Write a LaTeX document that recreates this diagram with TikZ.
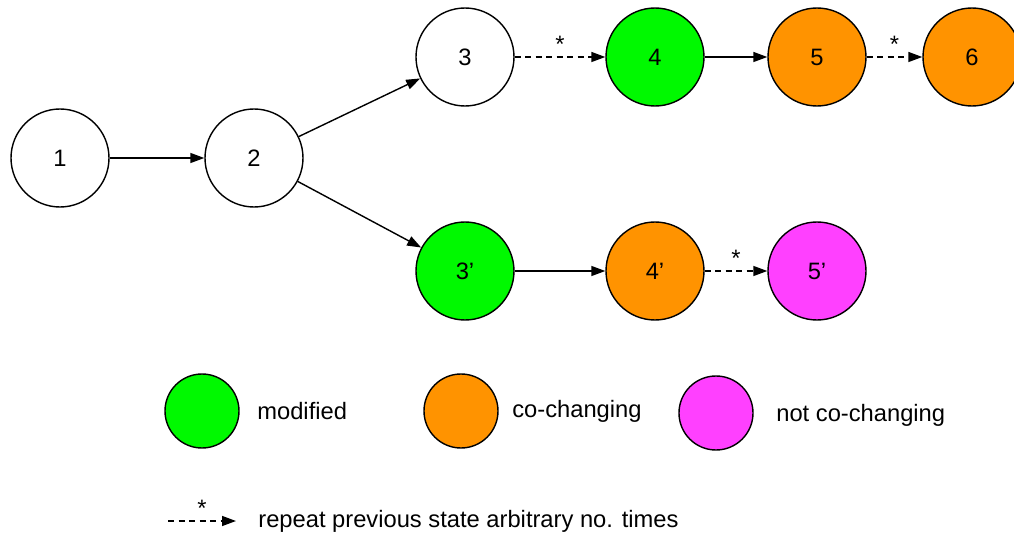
\documentclass[tikz,border=0pt]{standalone}
\usepackage{fontspec}
\setmainfont{Liberation Sans}
\usetikzlibrary{
    arrows.meta,
    positioning
}
\definecolor{modgreen}{HTML}{00F900}
\definecolor{coorange}{HTML}{FF9300}
\definecolor{notpink}{HTML}{FF40FF}
\tikzset{
    state/.style={circle, draw=black, line width=0.8pt, minimum size=1.96cm, inner sep=0pt},
    modified/.style={state, fill=modgreen},
    cochanging/.style={state, fill=coorange},
    notcochanging/.style={state, fill=notpink},
    legendstate/.style={circle, draw=black, line width=0.8pt, minimum size=1.48cm, inner sep=0pt},
    trans/.style={-{Triangle[length=2.8mm, width=2mm]}, line width=0.8pt},
    repeattrans/.style={trans, dash pattern=on 1.2mm off 0.9mm},
    star/.style={above=1pt, inner sep=1pt},
    note/.style={anchor=west, inner sep=0pt}
}

\begin{document}
\begin{tikzpicture}[font=\fontsize{13.5}{16}\selectfont]
    \useasboundingbox (0,0) rectangle (20.28,10.7);
    % states
    \node[state] (s1) at (1.2,7.54) {1};
    \node[state] (s2) at (5.08,7.54) {2};
    \node[state] (s3) at (9.3,9.56) {3};
    \node[modified] (s4) at (13.1,9.56) {4};
    \node[cochanging] (s5) at (16.34,9.56) {5};
    \node[cochanging] (s6) at (19.44,9.56) {6};
    \node[modified] (t3) at (9.3,5.28) {3’};
    \node[cochanging] (t4) at (13.1,5.28) {4’};
    \node[notcochanging] (t5) at (16.34,5.28) {5’};
    % transitions
    \draw[trans] (s1) -- (s2);
    \draw[trans] (s2) -- (s3);
    \draw[trans] (s2) -- (t3);
    \draw[repeattrans] (s3) -- node[star] {*} (s4);
    \draw[trans] (s4) -- (s5);
    \draw[repeattrans] (s5) -- node[star] {*} (s6);
    \draw[trans] (t3) -- (t4);
    \draw[repeattrans] (t4) -- node[star] {*} (t5);
    % legend
    \node[legendstate, fill=modgreen] (lmod) at (4.04,2.48) {};
    \node[note] (lmodtext) at (5.14,2.48) {modified};
    \node[legendstate, fill=coorange] (lco) at (9.22,2.48) {};
    \node[note] (lcotext) at (10.24,2.48) {co-changing};
    \node[legendstate, fill=notpink] (lnot) at (14.32,2.44) {};
    \node[note] (lnottext) at (15.52,2.4) {not co-changing};
    \coordinate (rfrom) at (3.36,0.28);
    \coordinate (rto) at (4.72,0.28);
    \draw[repeattrans] (rfrom) -- node[star] {*} (rto);
    \node[note] (rtext) at (5.16,0.28) {repeat previous state arbitrary no. times};
\end{tikzpicture}
\end{document}
